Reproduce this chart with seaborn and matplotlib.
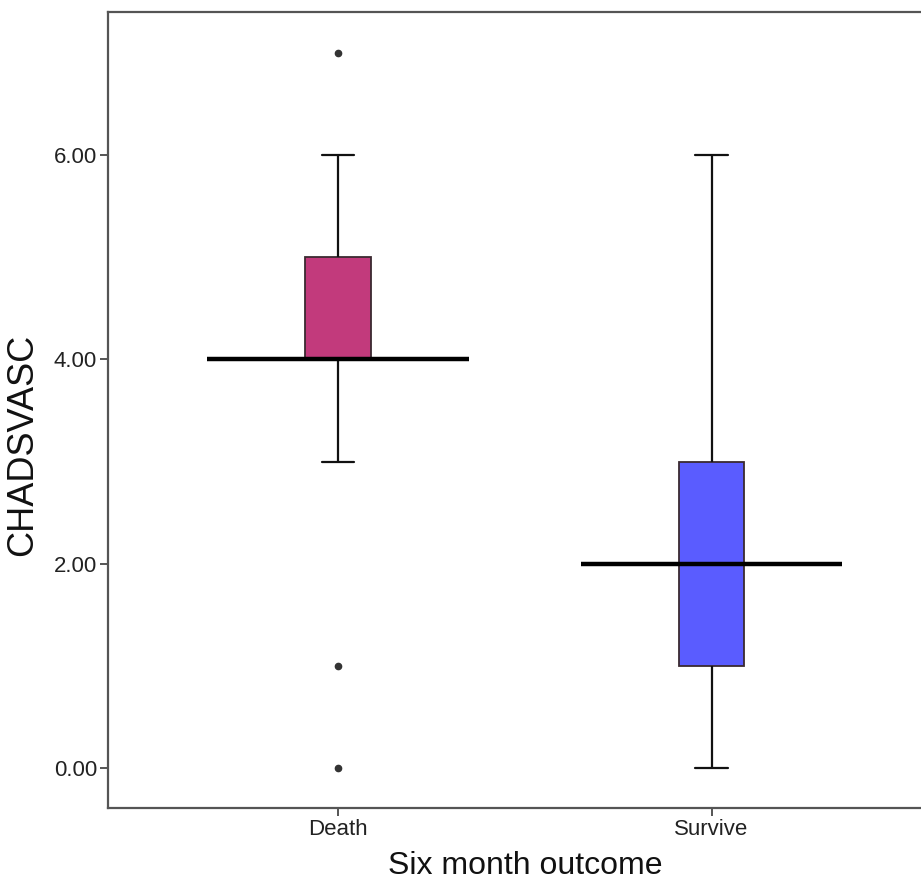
import matplotlib
matplotlib.use("Agg")
import matplotlib.pyplot as plt
import numpy as np
import pandas as pd
import seaborn as sns

# CHADSVASC scores read back from the box plot (quartiles, whiskers, outliers)
outcomes = ["Death", "Survive"]
death_scores = [0, 1, 3, 4, 4, 4, 4, 4, 4, 4, 5, 5, 5, 5, 6, 7]
survive_scores = [0, 1, 1, 1, 1, 2, 2, 2, 2, 3, 3, 3, 3, 4, 5, 6]
box_colors = ["#C23A7C", "#5A5CFF"]
y_ticks = [0, 2, 4, 6]

df = pd.DataFrame({
    "outcome": ["Death"] * len(death_scores) + ["Survive"] * len(survive_scores),
    "CHADSVASC": death_scores + survive_scores,
})

sns.set_style("white")
fonts = ["Liberation Sans", "DejaVu Sans"]
plt.rcParams["font.family"] = fonts

fig = plt.figure(figsize=(9.21, 8.93), dpi=100)
ax = fig.add_axes([0.1173, 0.0952, 0.905, 0.8914])

sns.boxplot(data=df, x="outcome", y="CHADSVASC", hue="outcome", order=outcomes,
            palette=box_colors, saturation=1, width=0.176, legend=False, ax=ax,
            linecolor="#222222", linewidth=1.5, whis=1.5,
            medianprops={"visible": False},
            whiskerprops={"color": "#111111", "linewidth": 1.6},
            capprops={"color": "#111111", "linewidth": 1.6},
            boxprops={"edgecolor": "#3a2a30", "linewidth": 1.3},
            flierprops={"marker": "o", "markersize": 4.5,
                        "markerfacecolor": "#333333", "markeredgecolor": "#333333"})

# SPSS-style median bars, wider than the boxes
for i, scores in enumerate([death_scores, survive_scores]):
    ax.hlines(np.median(scores), i - 0.35, i + 0.35, color="black", linewidth=3.2, zorder=5)

ax.set_xlim(-0.616, 1.616)
ax.set_ylim(-0.39, 7.40)
ax.set_yticks(y_ticks)
ax.set_yticklabels([f"{v:.2f}" for v in y_ticks])

for side in ["left", "bottom", "top"]:
    ax.spines[side].set_visible(True)
    ax.spines[side].set_color("#555555")
    ax.spines[side].set_linewidth(1.6)
ax.spines["right"].set_visible(False)

ax.tick_params(axis="both", direction="out", length=6, width=1.4, color="#555555",
               labelsize=16, labelcolor="#222222", pad=2, left=True, bottom=True)

ax.set_xlabel("Six month outcome", fontsize=23, color="#111111", labelpad=8)
ax.set_ylabel("CHADSVASC", fontsize=26, color="#111111", va="center")
ax.yaxis.set_label_coords(-0.102, 0.456)

fig.savefig("out.png", dpi=100)
